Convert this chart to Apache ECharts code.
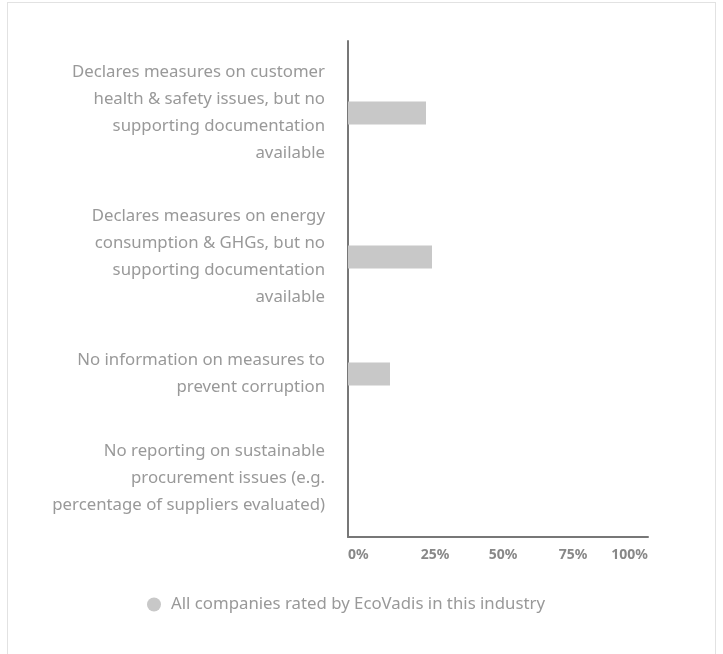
<!DOCTYPE html>
<html>
<head>
<meta charset="utf-8">
<script src="https://cdn.jsdelivr.net/npm/echarts@6/dist/echarts.min.js"></script>
<style>
  html, body { margin: 0; padding: 0; background: #fff; }
  #frame { position: absolute; left: 7px; top: 2px; width: 709px; height: 700px; border: 1px solid #e2e2e2; box-sizing: border-box; }
  #chart { position: absolute; left: 0; top: 0; width: 723px; height: 654px; }
</style>
</head>
<body>
<div id="frame"></div>
<div id="chart"></div>
<script>
// categories (top to bottom) with the line breaks used in the picture
var categories = [
  'Declares measures on customer\nhealth & safety issues, but no\nsupporting documentation\navailable',
  'Declares measures on energy\nconsumption & GHGs, but no\nsupporting documentation\navailable',
  'No information on measures to\nprevent corruption',
  'No reporting on sustainable\nprocurement issues (e.g.\npercentage of suppliers evaluated)'
];
// share of companies, %
var values = [26, 28, 14, 0];
var tickLabels = ['0%', '25%', '50%', '75%', '100%'];
var seriesName = 'All companies rated by EcoVadis in this industry';

var myChart = echarts.init(document.getElementById('chart'));

var tickStyle = { color: '#888', fontSize: 14, fontWeight: 'bold', fontFamily: 'Noto Sans' };
// the tick labels are spread a bit unevenly in the original
var tickRich = {
  t0: tickStyle,
  t1: Object.assign({ padding: [0, 0, 0, 24] }, tickStyle),
  t2: Object.assign({ padding: [0, 0, 0, 10] }, tickStyle),
  t3: tickStyle,
  t4: tickStyle
};

// each row is as tall as its label block
var grids = [], xAxes = [], yAxes = [], series = [];
var rowTop = 41;
for (var i = 0; i < categories.length; i++) {
  var lines = categories[i].split('\n').length;
  var h = lines * 27 + 36;
  var last = i == categories.length - 1;
  if (last) h += 1;
  grids.push({ left: 348, right: 75, top: rowTop, height: h });
  rowTop += h;
  xAxes.push({
    gridIndex: i,
    type: 'value',
    min: 0,
    max: 100,
    interval: 25,
    splitLine: { show: false },
    axisTick: { show: false },
    axisLine: { show: last, lineStyle: { color: '#777', width: 2 } },
    axisLabel: {
      show: last,
      margin: 11,
      color: '#888',
      fontSize: 14,
      fontWeight: 'bold',
      fontFamily: 'Noto Sans',
      alignMinLabel: 'left',
      alignMaxLabel: 'right',
      rich: tickRich,
      formatter: function (v) {
        var k = Math.round(v / 25);
        return '{t' + k + '|' + tickLabels[k] + '}';
      }
    }
  });
  yAxes.push({
    gridIndex: i,
    type: 'category',
    data: [categories[i]],
    axisTick: { show: false },
    axisLine: { show: true, lineStyle: { color: '#777', width: 2 } },
    axisLabel: {
      margin: 23,
      color: '#999',
      fontSize: 16.8,
      lineHeight: 27,
      fontFamily: 'Noto Sans',
      align: 'right'
    }
  });
  series.push({
    name: seriesName,
    type: 'bar',
    xAxisIndex: i,
    yAxisIndex: i,
    data: [values[i]],
    barWidth: 23,
    itemStyle: { color: '#c8c8c8' },
    silent: true
  });
}

var option = {
  animation: false,
  legend: {
    data: [seriesName],
    left: 142,
    top: 591,
    icon: 'circle',
    itemWidth: 14,
    itemHeight: 14,
    itemGap: 10,
    textStyle: { color: '#999', fontSize: 16.8, fontFamily: 'Noto Sans', padding: [0, 0, 0, 5] }
  },
  grid: grids,
  xAxis: xAxes,
  yAxis: yAxes,
  series: series
};
myChart.setOption(option);
</script>
</body>
</html>
